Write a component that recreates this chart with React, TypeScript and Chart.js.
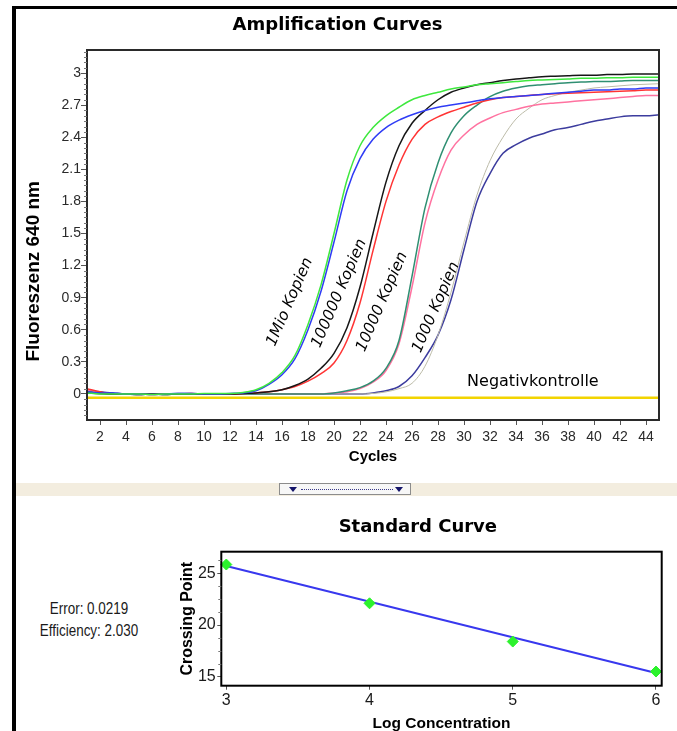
import React, { useEffect, useRef } from 'react';
import { Chart, registerables } from 'chart.js';

Chart.register(...registerables);

// ---------- Amplification curves (top chart) ----------
const CYCLES = [1, 2, 3, 4, 5, 6, 7, 8, 9, 10, 11, 12, 13, 14, 15, 16, 17, 18, 19, 20, 21, 22, 23, 24, 25, 26, 27, 28, 29, 30, 31, 32, 33, 34, 35, 36, 37, 38, 39, 40, 41, 42, 43, 44, 45];

const X_TICKS = [2, 4, 6, 8, 10, 12, 14, 16, 18, 20, 22, 24, 26, 28, 30, 32, 34, 36, 38, 40, 42, 44];
const X_TICK_LABELS = ['2', '4', '6', '8', '10', '12', '14', '16', '18', '20', '22', '24', '26', '28', '30', '32', '34', '36', '38', '40', '42', '44'];
const Y_TICKS = [0, 0.3, 0.6, 0.9, 1.2, 1.5, 1.8, 2.1, 2.4, 2.7, 3];
const Y_TICK_LABELS = ['0', '0.3', '0.6', '0.9', '1.2', '1.5', '1.8', '2.1', '2.4', '2.7', '3'];

// 1Mio Kopien (two replicates)
const MIO_A = [0.01, 0, 0, 0, 0, -0.005, 0, 0, 0, 0.005, 0.005, 0.005, 0.015, 0.04, 0.1, 0.2, 0.36, 0.65, 1.02, 1.5, 2.0, 2.32, 2.49, 2.6, 2.68, 2.75, 2.79, 2.82, 2.85, 2.87, 2.89, 2.9, 2.91, 2.92, 2.93, 2.935, 2.94, 2.945, 2.95, 2.95, 2.955, 2.955, 2.96, 2.96, 2.96];
const MIO_B = [0.02, 0.01, 0.01, 0, 0, -0.005, 0, 0.005, 0.005, 0, 0, 0.005, 0.01, 0.03, 0.09, 0.18, 0.33, 0.6, 0.96, 1.42, 1.9, 2.2, 2.38, 2.49, 2.56, 2.61, 2.65, 2.68, 2.7, 2.72, 2.74, 2.76, 2.77, 2.78, 2.79, 2.8, 2.81, 2.82, 2.83, 2.84, 2.84, 2.85, 2.85, 2.86, 2.86];
// 100000 Kopien
const K100_A = [0.01, 0.005, 0, 0, -0.005, 0, -0.005, 0, 0, 0, 0, 0, 0.005, 0.01, 0.02, 0.04, 0.08, 0.14, 0.24, 0.38, 0.62, 1.0, 1.5, 1.98, 2.32, 2.53, 2.65, 2.75, 2.82, 2.86, 2.89, 2.91, 2.93, 2.945, 2.955, 2.965, 2.97, 2.975, 2.98, 2.98, 2.985, 2.985, 2.99, 2.99, 2.99];
const K100_B = [0.05, 0.02, 0, 0, 0, -0.005, 0, 0, 0.005, 0, 0, 0, 0.005, 0.01, 0.02, 0.04, 0.07, 0.12, 0.19, 0.29, 0.5, 0.85, 1.34, 1.8, 2.14, 2.38, 2.52, 2.59, 2.64, 2.68, 2.72, 2.75, 2.77, 2.78, 2.79, 2.8, 2.805, 2.81, 2.815, 2.82, 2.825, 2.83, 2.835, 2.84, 2.84];
// 10000 Kopien
const K10_A = [0.02, 0.01, 0, 0, 0, 0, -0.005, 0, 0, 0, 0, 0, 0, 0, 0, 0, 0, 0, 0, 0.01, 0.03, 0.06, 0.12, 0.24, 0.5, 1.1, 1.74, 2.16, 2.44, 2.6, 2.7, 2.78, 2.83, 2.86, 2.88, 2.89, 2.9, 2.91, 2.915, 2.92, 2.92, 2.925, 2.93, 2.93, 2.93];
const K10_B = [0.04, 0.01, 0, 0, 0, 0, 0, 0, 0, 0, 0, 0, 0, 0, 0, 0, 0, 0, 0, 0.01, 0.02, 0.05, 0.11, 0.22, 0.47, 1.0, 1.6, 2.0, 2.28, 2.42, 2.52, 2.58, 2.63, 2.66, 2.69, 2.71, 2.72, 2.73, 2.74, 2.75, 2.76, 2.77, 2.78, 2.79, 2.79];
// 1000 Kopien
const K1_A = [0.01, 0, 0, 0, 0, 0, 0, 0, 0, 0, 0, 0, 0, 0, 0, 0, 0, 0, 0, 0, 0, 0, 0.005, 0.02, 0.05, 0.1, 0.26, 0.55, 0.95, 1.42, 1.86, 2.18, 2.4, 2.57, 2.67, 2.75, 2.79, 2.82, 2.84, 2.86, 2.87, 2.88, 2.89, 2.895, 2.9];
const K1_B = [0.03, 0.02, 0.01, 0, -0.005, 0, 0, 0.005, 0.005, 0, 0, 0, 0, 0, 0, 0, 0, 0, 0, 0, 0, 0, 0.01, 0.03, 0.07, 0.17, 0.34, 0.55, 0.88, 1.35, 1.8, 2.06, 2.25, 2.33, 2.39, 2.43, 2.47, 2.49, 2.52, 2.55, 2.57, 2.59, 2.6, 2.6, 2.61];
// Negativkontrolle
const NEG = [-0.035, -0.035, -0.035, -0.035, -0.035, -0.035, -0.035, -0.035, -0.035, -0.035, -0.035, -0.035, -0.035, -0.035, -0.035, -0.035, -0.035, -0.035, -0.035, -0.035, -0.035, -0.035, -0.035, -0.035, -0.035, -0.035, -0.035, -0.035, -0.035, -0.035, -0.035, -0.035, -0.035, -0.035, -0.035, -0.035, -0.035, -0.035, -0.035, -0.035, -0.035, -0.035, -0.035, -0.035, -0.035];

const SERIES_NAMES = ['1Mio A', '1Mio B', '100000 A', '100000 B', '10000 A', '10000 B', '1000 A', '1000 B', 'Negativkontrolle'];
const SERIES_VALUES = [MIO_A, MIO_B, K100_A, K100_B, K10_A, K10_B, K1_A, K1_B, NEG];
const SERIES_COLORS = ['#3ee83e', '#2f3cf5', '#161616', '#ff3434', '#2f8f72', '#ff72a0', '#bcbba8', '#3c3c9e', '#f2d400'];
const SERIES_WIDTHS = [1.5, 1.5, 1.5, 1.5, 1.5, 1.5, 1, 1.5, 2.5];

const CURVE_LABELS = ['1Mio Kopien', '100000 Kopien', '10000 Kopien', '1000 Kopien'];
const CURVE_LABEL_CYCLE = [16.6, 20.4, 23.7, 27.85];
const CURVE_LABEL_VALUE = [0.86, 0.94, 0.86, 0.81];
const NEG_LABEL = 'Negativkontrolle';
const NEG_LABEL_CYCLE = 35.3;
const NEG_LABEL_VALUE = 0.11;

// ---------- Standard curve (bottom chart) ----------
const LOG_CONC = [3, 4, 5, 6];
const CROSSING_POINTS = [25.85, 22.1, 18.4, 15.5];
const FIT_X = [3, 6];
const FIT_Y = [25.7, 15.35];
const BOT_X_TICKS = [3, 4, 5, 6];
const BOT_X_LABELS = ['3', '4', '5', '6'];
const BOT_Y_TICKS = [15, 20, 25];
const BOT_Y_LABELS = ['15', '20', '25'];
const ERROR_TEXT = 'Error: 0.0219';
const EFFICIENCY_TEXT = 'Efficiency: 2.030';

const AXIS_FONT = "'Liberation Sans', Arial, sans-serif";
const TITLE_FONT = "'DejaVu Sans', Verdana, sans-serif";

const framePlugin = {
  id: 'frame',
  afterDraw(chart: any, _args: any, opts: any) {
    const { ctx, chartArea: a } = chart;
    ctx.save();
    ctx.strokeStyle = opts.color || '#222';
    ctx.lineWidth = opts.width || 2;
    ctx.strokeRect(a.left, a.top, a.right - a.left, a.bottom - a.top);
    ctx.restore();
  },
};

const minorTicksPlugin = {
  id: 'minorTicks',
  afterDraw(chart: any, _args: any, opts: any) {
    if (!opts || !opts.step) return;
    const { ctx, chartArea: a } = chart;
    const ys = chart.scales.y;
    ctx.save();
    ctx.strokeStyle = opts.color || '#666';
    ctx.lineWidth = 1;
    for (let k = opts.kFrom; k <= opts.kTo; k++) {
      if (k % opts.every === 0) continue;
      const v = k * opts.step;
      if (v < ys.min || v > ys.max) continue;
      const y = Math.round(ys.getPixelForValue(v)) + 0.5;
      ctx.beginPath();
      ctx.moveTo(a.left - opts.len, y);
      ctx.lineTo(a.left, y);
      ctx.stroke();
    }
    ctx.restore();
  },
};

const topTextPlugin = {
  id: 'topText',
  afterDraw(chart: any) {
    const { ctx, chartArea: a } = chart;
    const xs = chart.scales.x;
    const ys = chart.scales.y;
    ctx.save();
    // y-axis title
    ctx.fillStyle = '#000';
    ctx.font = `bold 19px ${AXIS_FONT}`;
    ctx.textAlign = 'center';
    ctx.textBaseline = 'middle';
    ctx.translate(a.left - 53, a.top + (a.bottom - a.top) * 0.598);
    ctx.rotate(-Math.PI / 2);
    ctx.fillText('Fluoreszenz 640 nm', 0, 0);
    ctx.restore();

    ctx.save();
    ctx.fillStyle = '#000';
    ctx.font = `italic 15.5px ${TITLE_FONT}`;
    ctx.textAlign = 'center';
    ctx.textBaseline = 'middle';
    CURVE_LABELS.forEach((t, i) => {
      const x = xs.getPixelForValue(CURVE_LABEL_CYCLE[i]);
      const y = ys.getPixelForValue(CURVE_LABEL_VALUE[i]);
      ctx.save();
      ctx.translate(x, y);
      ctx.rotate((-66.5 * Math.PI) / 180);
      ctx.fillText(t, 0, 0);
      ctx.restore();
    });
    ctx.font = `16px ${TITLE_FONT}`;
    ctx.fillText(NEG_LABEL, xs.getPixelForValue(NEG_LABEL_CYCLE), ys.getPixelForValue(NEG_LABEL_VALUE));
    ctx.restore();
  },
};

export default function App() {
  const topRef = useRef<HTMLCanvasElement | null>(null);
  const botRef = useRef<HTMLCanvasElement | null>(null);

  useEffect(() => {
    if (!topRef.current || !botRef.current) return;

    const topChart = new Chart(topRef.current, {
      type: 'line',
      data: {
        datasets: SERIES_NAMES.map((name, si) => ({
          label: name,
          data: CYCLES.map((c, i) => ({ x: c, y: SERIES_VALUES[si][i] })),
          borderColor: SERIES_COLORS[si],
          backgroundColor: SERIES_COLORS[si],
          borderWidth: SERIES_WIDTHS[si],
          pointRadius: 0,
          fill: false,
          cubicInterpolationMode: 'monotone',
        })),
      },
      options: {
        responsive: false,
        animation: false,
        devicePixelRatio: 1,
        events: [],
        layout: { padding: { left: 0, right: 18, top: 0, bottom: 0 } },
        plugins: {
          legend: { display: false },
          tooltip: { enabled: false },
          title: {
            display: true,
            text: 'Amplification Curves',
            color: '#000',
            font: { family: TITLE_FONT, size: 18, weight: 'bold' },
            padding: { top: 6, bottom: 13.4 },
          },
          frame: { color: '#2a2a2a', width: 2 },
          minorTicks: { step: 0.05, kFrom: -4, kTo: 64, every: 6, len: 3, color: '#777' },
        } as any,
        scales: {
          x: {
            type: 'linear',
            min: 1,
            max: 45,
            afterBuildTicks: (s: any) => { s.ticks = X_TICKS.map((v) => ({ value: v })); },
            afterFit: (s: any) => { s.height = 60; },
            border: { display: false },
            grid: { display: true, drawOnChartArea: false, drawTicks: true, tickLength: 5, color: '#555' },
            ticks: {
              padding: 3.6,
              color: '#2a2a2a',
              font: { family: AXIS_FONT, size: 14 },
              maxRotation: 0,
              autoSkip: false,
              callback: (_v: any, i: number) => X_TICK_LABELS[i],
            },
            title: {
              display: true,
              text: 'Cycles',
              color: '#000',
              font: { family: AXIS_FONT, size: 15, weight: 'bold' },
              padding: { top: 0, bottom: 14 },
            },
          },
          y: {
            type: 'linear',
            min: -0.243,
            max: 3.215,
            afterBuildTicks: (s: any) => { s.ticks = Y_TICKS.map((v) => ({ value: v })); },
            afterFit: (s: any) => { s.width = 71; },
            border: { display: false },
            grid: { display: true, drawOnChartArea: false, drawTicks: true, tickLength: 6, color: '#555' },
            ticks: {
              padding: 0,
              color: '#2a2a2a',
              font: { family: AXIS_FONT, size: 14 },
              autoSkip: false,
              callback: (_v: any, i: number) => Y_TICK_LABELS[i],
            },
          },
        },
      } as any,
      plugins: [framePlugin, minorTicksPlugin, topTextPlugin],
    });

    const botChart = new Chart(botRef.current, {
      type: 'line',
      data: {
        datasets: [
          {
            label: 'Standards',
            data: LOG_CONC.map((x, i) => ({ x, y: CROSSING_POINTS[i] })),
            showLine: false,
            pointStyle: 'rectRot',
            pointRadius: 5.5,
            backgroundColor: '#2cf22c',
            borderColor: '#2cf22c',
            borderWidth: 1,
            clip: false,
          },
          {
            label: 'Fit',
            data: FIT_X.map((x, i) => ({ x, y: FIT_Y[i] })),
            borderColor: '#3838ee',
            borderWidth: 2,
            pointRadius: 0,
            fill: false,
          },
        ],
      },
      options: {
        responsive: false,
        animation: false,
        devicePixelRatio: 1,
        events: [],
        layout: { padding: { left: 0, right: 15.3, top: 0, bottom: 0 } },
        plugins: {
          legend: { display: false },
          tooltip: { enabled: false },
          title: {
            display: true,
            text: 'Standard Curve',
            color: '#000',
            font: { family: TITLE_FONT, size: 18, weight: 'bold' },
            padding: { top: 19.2, bottom: 13.9 },
          },
          frame: { color: '#000', width: 2 },
          minorTicks: { step: 1.25, kFrom: 12, kTo: 21, every: 4, len: 3, color: '#777' },
        } as any,
        scales: {
          x: {
            type: 'linear',
            min: 2.965,
            max: 6.04,
            afterBuildTicks: (s: any) => { s.ticks = BOT_X_TICKS.map((v) => ({ value: v })); },
            afterFit: (s: any) => { s.height = 45.3; },
            border: { display: false },
            grid: { display: true, drawOnChartArea: false, drawTicks: true, tickLength: 4, color: '#555' },
            ticks: {
              padding: 1.7,
              color: '#1a1a1a',
              font: { family: AXIS_FONT, size: 16 },
              maxRotation: 0,
              autoSkip: false,
              callback: (_v: any, i: number) => BOT_X_LABELS[i],
            },
            title: {
              display: true,
              text: 'Log Concentration',
              color: '#000',
              font: { family: AXIS_FONT, size: 15.5, weight: 'bold', lineHeight: 1 },
              padding: { top: 0, bottom: 0 },
            },
          },
          y: {
            type: 'linear',
            min: 14.13,
            max: 27.09,
            afterBuildTicks: (s: any) => { s.ticks = BOT_Y_TICKS.map((v) => ({ value: v })); },
            afterFit: (s: any) => { s.width = 47.3; },
            border: { display: false },
            grid: { display: true, drawOnChartArea: false, drawTicks: true, tickLength: 4, color: '#555' },
            ticks: {
              padding: 1.6,
              color: '#1a1a1a',
              font: { family: AXIS_FONT, size: 16 },
              autoSkip: false,
              callback: (_v: any, i: number) => BOT_Y_LABELS[i],
            },
            title: {
              display: true,
              text: 'Crossing Point',
              color: '#000',
              font: { family: AXIS_FONT, size: 16, weight: 'bold' },
              padding: { top: 4, bottom: 0 },
            },
          },
        },
      } as any,
      plugins: [framePlugin, minorTicksPlugin],
    });

    return () => {
      topChart.destroy();
      botChart.destroy();
    };
  }, []);

  const tri: React.CSSProperties = {
    position: 'absolute',
    top: 3,
    width: 0,
    height: 0,
    borderLeft: '4px solid transparent',
    borderRight: '4px solid transparent',
    borderTop: '5px solid #15156a',
  };

  return (
    <div style={{ position: 'absolute', left: 0, top: 0, width: 677, height: 731, background: '#fff', overflow: 'hidden' }}>
      {/* outer frame */}
      <div style={{ position: 'absolute', left: 12, top: 6, width: 4, height: 725, background: '#000' }} />
      <div style={{ position: 'absolute', left: 12, top: 6, width: 665, height: 3, background: '#000' }} />

      <canvas ref={topRef} width={661} height={471} style={{ position: 'absolute', left: 16, top: 9 }} />

      {/* splitter band */}
      <div style={{ position: 'absolute', left: 16, top: 483, width: 661, height: 13, background: '#f3eddf' }} />
      <div
        style={{
          position: 'absolute',
          left: 279,
          top: 483,
          width: 130,
          height: 10,
          border: '1px solid #8c8c8c',
          background: '#f7f7f7',
        }}
      >
        <div style={{ ...tri, left: 9 }} />
        <div style={{ position: 'absolute', left: 21, top: 5, width: 92, height: 0, borderTop: '1px dotted #3a3a8a' }} />
        <div style={{ ...tri, left: 115 }} />
      </div>

      {/* error / efficiency */}
      <div
        style={{
          position: 'absolute',
          left: 19,
          top: 598,
          width: 140,
          textAlign: 'center',
          fontFamily: AXIS_FONT,
          fontSize: 16,
          lineHeight: '22px',
          color: '#1a1a1a',
          transform: 'scaleX(0.84)',
          transformOrigin: '70px 0',
        }}
      >
        <div>{ERROR_TEXT}</div>
        <div>{EFFICIENCY_TEXT}</div>
      </div>

      <canvas ref={botRef} width={503} height={234} style={{ position: 'absolute', left: 174, top: 497 }} />
    </div>
  );
}
